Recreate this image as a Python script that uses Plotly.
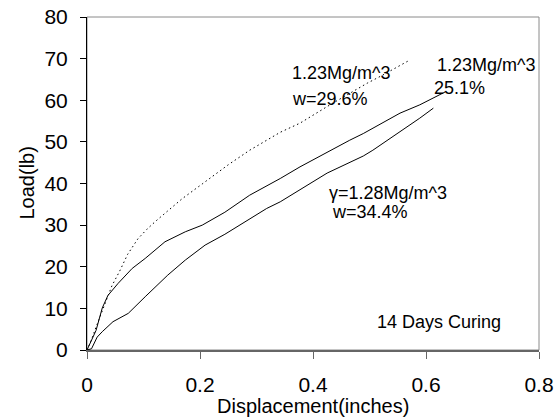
import plotly.graph_objects as go

# Curve: gamma=1.23 Mg/m^3, w=29.6% (dotted)
x_w296 = [0, 0.008, 0.016, 0.025, 0.032, 0.044, 0.058, 0.072, 0.09, 0.106, 0.122, 0.138, 0.168,
          0.205, 0.25, 0.288, 0.342, 0.377, 0.435, 0.496, 0.52, 0.572]
y_w296 = [0, 2.5, 5.5, 8.6, 11.3, 15.4, 19.0, 23.0, 26.7, 29.0, 31.0, 32.9, 36.3,
          40.0, 44.5, 48.0, 52.3, 54.5, 59.3, 64.1, 65.8, 69.7]

# Curve: gamma=1.23 Mg/m^3, w=25.1% (solid, upper)
x_w251 = [0, 0.008, 0.016, 0.027, 0.037, 0.055, 0.08, 0.103, 0.138, 0.174, 0.204, 0.244,
          0.288, 0.342, 0.377, 0.465, 0.489, 0.554, 0.589, 0.634]
y_w251 = [0, 2.5, 4.7, 10.1, 13.1, 16.0, 19.6, 22.0, 26.0, 28.4, 30.0, 33.1,
          37.2, 41.2, 44.0, 50.4, 52.0, 56.9, 58.9, 62.0]

# Curve: gamma=1.28 Mg/m^3, w=34.4% (solid, lower)
x_w344 = [0, 0.008, 0.018, 0.027, 0.046, 0.073, 0.103, 0.143, 0.174, 0.209, 0.244,
          0.318, 0.342, 0.425, 0.489, 0.506, 0.589, 0.613]
y_w344 = [0, 0.3, 3.1, 4.4, 6.8, 8.8, 12.8, 18.0, 21.6, 25.2, 27.8,
          34.0, 35.6, 42.5, 46.6, 48.0, 55.7, 58.1]

x_ticks = [0, 0.2, 0.4, 0.6, 0.8]
x_ticktext = ["0", "0.2", "0.4", "0.6", "0.8"]
y_ticks = [0, 10, 20, 30, 40, 50, 60, 70, 80]

font = "Liberation Sans, Arial, sans-serif"

fig = go.Figure()
fig.add_trace(go.Scatter(x=x_w296, y=y_w296, mode="lines",
                         line=dict(color="black", width=1, dash="1.5px,3px")))
fig.add_trace(go.Scatter(x=x_w251, y=y_w251, mode="lines",
                         line=dict(color="black", width=1)))
fig.add_trace(go.Scatter(x=x_w344, y=y_w344, mode="lines",
                         line=dict(color="black", width=1)))

# gray plot-area frame (top/right)
fig.add_shape(type="rect", xref="paper", yref="paper", x0=0, y0=0, x1=1, y1=1,
              line=dict(color="#8a8a8a", width=1), layer="below")

ann_font = dict(family=font, size=18, color="black")
anns = [
    ("1.23Mg/m^3", 0.362, 73), ("w=29.6%", 0.362, 99),
    ("1.23Mg/m^3", 0.62, 65), ("25.1%", 0.614, 88),
    ("\u03b3=1.28Mg/m^3", 0.428, 193), ("w=34.4%", 0.433, 212),
    ("14 Days Curing", 0.514, 322),
]
for text, xv, ypix in anns:
    fig.add_annotation(x=xv, y=(350 - ypix) / (333 / 80), xref="x", yref="y",
                       text=text, showarrow=False, xanchor="left", yanchor="middle",
                       xshift=-2, font=ann_font)

# axis titles
fig.add_annotation(x=0.5, y=(350 - 406) / 333, xref="paper", yref="paper",
                   text="Displacement(inches)", showarrow=False,
                   xanchor="center", yanchor="middle", font=dict(family=font, size=20))
fig.add_annotation(x=(26 - 87) / 452, y=0.5, xref="paper", yref="paper",
                   text="Load(lb)", showarrow=False, textangle=-90,
                   xanchor="center", yanchor="middle", font=dict(family=font, size=20))

fig.update_layout(
    width=560, height=420,
    margin=dict(l=87, r=21, t=17, b=70),
    paper_bgcolor="white", plot_bgcolor="white",
    showlegend=False,
    font=dict(family=font, color="black"),
    xaxis=dict(range=[0, 0.8], tickvals=x_ticks, ticktext=x_ticktext,
               showgrid=False, zeroline=False, showline=True, linecolor="#666666", linewidth=2,
               ticks="outside", ticklen=7, tickcolor="#666666", tickwidth=1,
               tickfont=dict(size=21, family=font), ticklabelstandoff=8, automargin=False),
    yaxis=dict(range=[0, 80], tickvals=y_ticks,
               showgrid=False, zeroline=False, showline=True, linecolor="black", linewidth=1,
               ticks="outside", ticklen=6, tickcolor="black", tickwidth=1,
               tickfont=dict(size=21, family=font), ticklabelstandoff=8, automargin=False),
)

fig.write_html("out.html", config={"displayModeBar": False},
               post_script="document.body.style.margin='0';")
